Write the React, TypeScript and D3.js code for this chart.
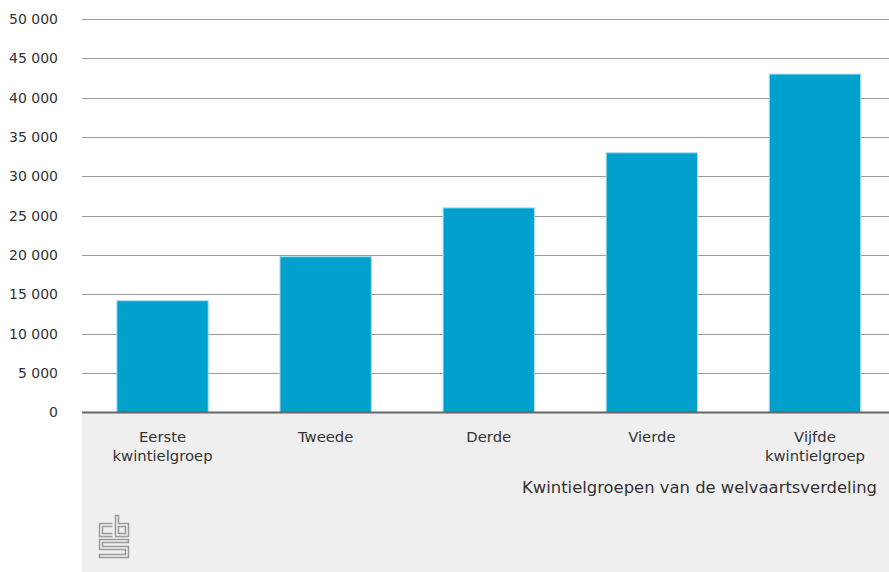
import React from "react";
import * as d3 from "d3";

const categories: string[][] = [
  ["Eerste", "kwintielgroep"],
  ["Tweede"],
  ["Derde"],
  ["Vierde"],
  ["Vijfde", "kwintielgroep"],
];
const values: number[] = [14200, 19800, 26000, 33000, 43000];
const yTicks: number[] = [0, 5000, 10000, 15000, 20000, 25000, 30000, 35000, 40000, 45000, 50000];
const axisTitle = "Kwintielgroepen van de welvaartsverdeling";

const W = 889;
const H = 572;
const FONT = "'DejaVu Sans', 'Open Sans', sans-serif";

export default function App() {
  const keys = categories.map((c) => c.join(" "));
  const x = d3.scaleBand<string>().domain(keys).range([81, 896.5]).paddingInner(0.44).paddingOuter(0.22);
  const y = d3.scaleLinear().domain([0, 50000]).range([412.5, 19]);
  const fmt = (v: number) => d3.format(",")(v).replace(/,/g, " ");

  const logo = "M13,8 H0 V21 H13 M13,11 H3 V18 H13 M16,0 H19 V8 H29 V21 H16 Z M19,11 H26 V18 H19 Z M29,24 H0 V34 H26 V39 H0 V42 H29 V31 H3 V27 H29 Z";

  return (
    <svg width={W} height={H} style={{ position: "absolute", left: 0, top: 0, display: "block" }}>
      <rect x={0} y={0} width={W} height={H} fill="#fff" />
      <rect x={82} y={412} width={W - 82} height={H - 412} fill="#efefef" />
      {yTicks.map((t) => (
        <g key={t}>
          {t > 0 && (
            <line x1={82} x2={W} y1={Math.round(y(t)) + 0.5} y2={Math.round(y(t)) + 0.5} stroke="#9a9a9a" strokeWidth={1} />
          )}
          <text x={58} y={y(t)} dy="0.35em" textAnchor="end" fontFamily={FONT} fontSize={14} fill="#333">
            {fmt(t)}
          </text>
        </g>
      ))}
      {values.map((v, i) => (
        <rect
          key={keys[i]}
          x={x(keys[i])!}
          y={y(v)}
          width={x.bandwidth()}
          height={y(0) - y(v)}
          fill="#00a1cd"
          stroke="#a6dcec"
          strokeWidth={1}
        />
      ))}
      <line x1={82} x2={W} y1={412.5} y2={412.5} stroke="#666" strokeWidth={2.2} />
      {categories.map((lines, i) =>
        lines.map((l, j) => (
          <text
            key={keys[i] + j}
            x={x(keys[i])! + x.bandwidth() / 2}
            y={442 + j * 18.5}
            textAnchor="middle"
            fontFamily={FONT}
            fontSize={14.8}
            fill="#333"
          >
            {l}
          </text>
        ))
      )}
      <text x={877} y={493} textAnchor="end" fontFamily={FONT} fontSize={16.4} fill="#333">
        {axisTitle}
      </text>
      <g transform="translate(99.5,515.5)">
        <path d={logo} fill="none" stroke="#9a9a9a" strokeWidth={1.5} />
      </g>
    </svg>
  );
}
